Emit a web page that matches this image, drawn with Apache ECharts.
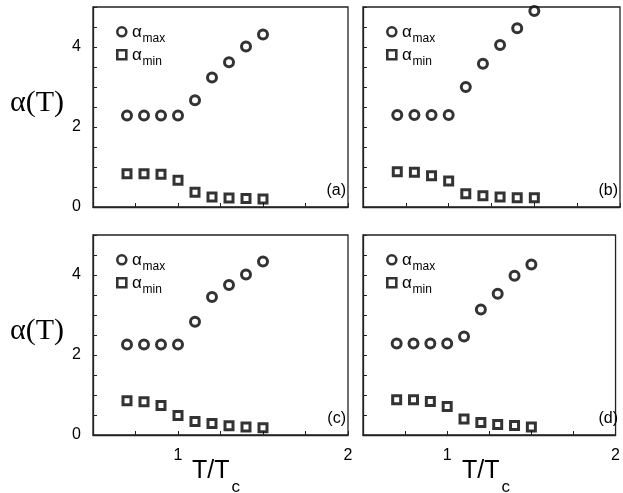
<!DOCTYPE html>
<html>
<head>
<meta charset="utf-8">
<script src="https://cdn.jsdelivr.net/npm/echarts@6/dist/echarts.min.js"></script>
<style>html,body{margin:0;padding:0;background:#fff}#c{width:623px;height:493px}</style>
</head>
<body>
<div id="c"></div>
<script>
const xT = [0.7, 0.8, 0.9, 1.0, 1.1, 1.2, 1.3, 1.4, 1.5];
const aMaxA = [2.29, 2.29, 2.29, 2.29, 2.67, 3.24, 3.62, 4.01, 4.31];
const aMinA = [0.83, 0.83, 0.82, 0.67, 0.37, 0.25, 0.225, 0.21, 0.20];
const aMaxB = [2.30, 2.30, 2.30, 2.30, 3.00, 3.58, 4.05, 4.47, 4.90];
const aMinB = [0.88, 0.87, 0.78, 0.65, 0.33, 0.28, 0.25, 0.23, 0.23];
const aMaxC = [2.26, 2.26, 2.26, 2.26, 2.83, 3.45, 3.75, 4.01, 4.34];
const aMinC = [0.855, 0.83, 0.74, 0.49, 0.335, 0.29, 0.23, 0.20, 0.18];
const aMaxD = [2.29, 2.29, 2.29, 2.29, 2.46, 3.14, 3.53, 3.98, 4.26];
const aMinD = [0.88, 0.88, 0.84, 0.71, 0.40, 0.31, 0.26, 0.24, 0.20];
const panelLabels = ['(a)', '(b)', '(c)', '(d)'];
const yTickLabels = [0, 2, 4];
const xTickLabels = [1, 2];
const legendSubs = ['max', 'min'];

const maxSets = [aMaxA, aMaxB, aMaxC, aMaxD];
const minSets = [aMinA, aMinB, aMinC, aMinD];

const grids = [
  {left: 93, top: 7, width: 255, height: 200},
  {left: 363, top: 7, width: 257, height: 200},
  {left: 93, top: 235, width: 255, height: 200},
  {left: 363, top: 235, width: 257, height: 200}
];

const font = 'Liberation Sans, Arial, sans-serif';
const pair = (ys) => xT.map((x, i) => [x, ys[i]]);

const circleStyle = {color: '#fff', borderColor: '#000', borderWidth: 3};
const squareStyle = {color: '#fff', borderColor: '#000', borderWidth: 3};

const xAxes = grids.map((g, i) => ({
  type: 'value', gridIndex: i, min: 0.5, max: 2, interval: 0.25,
  axisLine: {show: true, lineStyle: {color: '#222', width: 1.3}},
  axisTick: {show: true, inside: true, length: 4, lineStyle: {color: '#222', width: 1}},
  splitLine: {show: false},
  axisLabel: {
    show: i >= 2, margin: 13, color: '#000', fontSize: 16, fontFamily: font,
    formatter: v => xTickLabels.indexOf(v) >= 0 ? String(v) : ''
  }
}));
const yAxes = grids.map((g, i) => ({
  type: 'value', gridIndex: i, min: 0, max: 5, interval: 0.5,
  axisLine: {show: true, lineStyle: {color: '#222', width: 1.3}},
  axisTick: {show: true, inside: true, length: 4, lineStyle: {color: '#222', width: 1}},
  splitLine: {show: false},
  axisLabel: {
    show: i % 2 === 0, margin: 12, color: '#000', fontSize: 16, fontFamily: font,
    formatter: v => yTickLabels.indexOf(v) >= 0 ? String(v) : ''
  }
}));

const series = [];
grids.forEach((g, i) => {
  series.push({
    name: 'max', type: 'scatter', xAxisIndex: i, yAxisIndex: i,
    symbol: 'circle', symbolSize: 9, itemStyle: circleStyle, data: pair(maxSets[i]),
    emphasis: {disabled: true}
  });
  series.push({
    name: 'min', type: 'scatter', xAxisIndex: i, yAxisIndex: i,
    symbol: 'rect', symbolSize: 8, itemStyle: squareStyle, data: pair(minSets[i]),
    emphasis: {disabled: true}
  });
});

// legend icons (text drawn separately for precise subscript placement)
const legendRows = [
  {name: 'max', icon: 'circle', dy: 19},
  {name: 'min', icon: 'rect', dy: 42}
];
const legends = [];
const graphics = [];
grids.forEach(g => {
  legendRows.forEach((r, k) => {
    legends.push({
      orient: 'vertical', left: g.left + 23, top: g.top + r.dy, padding: 0,
      itemWidth: 9, itemHeight: 9, selectedMode: false,
      data: [{name: r.name, icon: r.icon, itemStyle: {color: '#fff', borderColor: '#000', borderWidth: 2.6}}],
      formatter: () => ' ',
      textStyle: {fontSize: 8, lineHeight: 8}
    });
    graphics.push({
      type: 'text', x: g.left + 39, y: g.top + 25.5 + k * 22.6, silent: true,
      style: {text: 'α', font: '17px ' + font, fill: '#000', align: 'left', verticalAlign: 'middle'}
    });
    graphics.push({
      type: 'text', x: g.left + 49.5, y: g.top + 31.8 + k * 22.6, silent: true,
      style: {text: legendSubs[k], font: '12px ' + font, fill: '#000', align: 'left', verticalAlign: 'middle'}
    });
  });
});

[grids[2], grids[3]].forEach(g => {
  graphics.push({
    type: 'text', x: g.left + 99, y: 471.3, silent: true,
    style: {text: 'T/T', font: '25px ' + font, fill: '#000', align: 'left', verticalAlign: 'middle'}
  });
  graphics.push({
    type: 'text', x: g.left + 138.5, y: 487, silent: true,
    style: {text: 'c', font: '17px ' + font, fill: '#000', align: 'left', verticalAlign: 'middle'}
  });
});

const titles = [];
grids.forEach((g, i) => {
  titles.push({
    text: panelLabels[i], right: 623 - (g.left + g.width) + 2, top: g.top + 176, padding: 0,
    textStyle: {fontSize: 16, fontWeight: 'normal', fontFamily: font, color: '#000'}
  });
});
[grids[0], grids[2]].forEach(g => {
  titles.push({
    text: 'α(T)', left: 10, top: g.top + 81, padding: 0,
    textStyle: {fontSize: 30, fontWeight: 'normal', fontFamily: 'Liberation Serif, Times New Roman, serif', color: '#000'}
  });
});

const chart = echarts.init(document.getElementById('c'), null, {renderer: 'canvas'});
chart.setOption({
  animation: false,
  backgroundColor: '#fff',
  title: titles,
  legend: legends,
  graphic: graphics,
  grid: grids.map(g => Object.assign({show: true, borderColor: '#222', borderWidth: 1.3, backgroundColor: 'transparent'}, g)),
  xAxis: xAxes,
  yAxis: yAxes,
  series: series
});
</script>
</body>
</html>
